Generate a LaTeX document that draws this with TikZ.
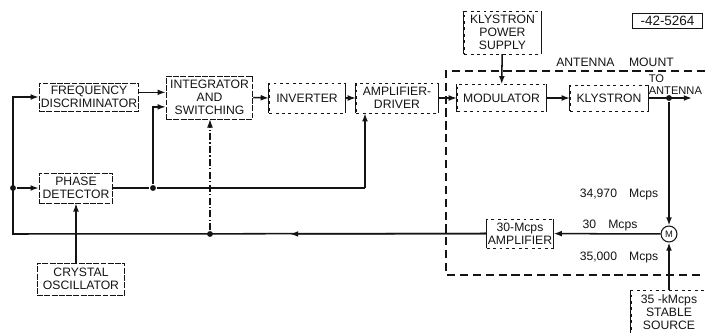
\documentclass[tikz,border=0pt]{standalone}
\usepackage{fontspec}
\setmainfont{Liberation Sans}
\usetikzlibrary{arrows.meta,calc}
\definecolor{inkBlack}{RGB}{20,20,20}

\begin{document}
\begin{tikzpicture}[x=0.03cm,y=-0.03cm,
  font=\fontsize{10.4}{11.3}\selectfont,
  line width=1.3pt,draw=inkBlack,text=inkBlack,
  arr/.style={-{Latex[length=7pt,width=5pt]}},
  blk/.style={draw,line width=0.7pt,dash pattern=on 5pt off 1.2pt,align=center,inner sep=1pt},
  brk/.style={draw,line width=0.45pt,dash pattern=on 2.5pt off 3pt,align=center,inner sep=1pt},
  dot/.style={circle,fill=inkBlack,inner sep=0pt,minimum size=5pt},
  mount/.style={line width=1.1pt,dash pattern=on 7pt off 4pt},
  dashdot/.style={line width=0.9pt,dash pattern=on 6pt off 2pt on 1pt off 2pt}]
  \def\pw{0.8504pt}
  \useasboundingbox (0,0) rectangle (705,332);
  \node[blk,minimum width=100*\pw,minimum height=28*\pw] (fd) at (89,97) {FREQUENCY\\DISCRIMINATOR};
  \node[blk,minimum width=87*\pw,minimum height=43*\pw] (intg) at (209.5,97.5) {INTEGRATOR\\AND\\SWITCHING};
  \node[brk,minimum width=76*\pw,minimum height=30*\pw] (inv) at (307,98) {INVERTER};
  \node[brk,minimum width=82*\pw,minimum height=30*\pw] (drv) at (397,98) {AMPLIFIER-\\DRIVER};
  \node[brk,minimum width=89*\pw,minimum height=27*\pw] (mod) at (501.5,98) {MODULATOR};
  \node[brk,minimum width=78*\pw,minimum height=26*\pw] (kly) at (609,98) {KLYSTRON};
  \node[brk,minimum width=77*\pw,minimum height=43*\pw] (kps) at (502.5,32.5) {KLYSTRON\\POWER\\SUPPLY};
  \node[draw,line width=0.8pt,minimum width=71*\pw,minimum height=15*\pw,inner sep=0pt,font=\fontsize{11.5}{12}\selectfont] (tag) at (667.5,20.5) {-42-5264};
  \node[blk,minimum width=74*\pw,minimum height=30*\pw] (pd) at (76,188) {PHASE\\DETECTOR};
  \node[blk,minimum width=88*\pw,minimum height=32*\pw] (xo) at (81,279) {CRYSTAL\\OSCILLATOR};
  \node[brk,minimum width=66*\pw,minimum height=29*\pw] (amp) at (520,233.5) {30-Mcps\\AMPLIFIER};
  \node[circle,draw,line width=0.9pt,inner sep=0pt,minimum size=16*\pw,font=\fontsize{8}{8}\selectfont] (mix) at (669,234) {M};
  \node[brk,minimum width=76*\pw,minimum height=44*\pw] (src) at (669,312) {35 -kMcps\\STABLE\\SOURCE};
  \foreach \n in {inv,drv,mod,kly,kps,amp,src}{
    \draw[line width=0.9pt] (\n.north west) -- (\n.south west) (\n.north east) -- (\n.south east);
  }
  \coordinate (lc) at (13,234);
  \node[dot] (ld) at (13,188) {};
  \node[dot] (pj) at (153,188) {};
  \coordinate (dj) at (365,188);
  \node[dot] (fbd) at (210,234) {};
  \coordinate (tip) at (290,234);
  \node[dot] (kj) at (669,98) {};
  \coordinate (ant) at (692,98);
  \draw[mount] (705,71) -- (446,71) -- (446,275) -- (705,275);
  \node (mtl) at (615,62) {ANTENNA\hspace{1.2em}MOUNT};
  \node[anchor=base west,align=left,inner sep=0pt,font=\fontsize{9.5}{9.5}\selectfont] (tol) at (648,94) {TO\\ANTENNA};
  \node[anchor=east] (lba) at (663,195) {34,970\hspace{1em}Mcps};
  \node (lbb) at (610,226) {30\hspace{1em}Mcps};
  \node[anchor=east] (lbc) at (663,258) {35,000\hspace{1em}Mcps};
  \draw[arr] ([yshift=4pt]fd.east) -- ([yshift=4pt]fd.east -| intg.west);
  \draw[arr] (pj) |- ([yshift=-8pt]intg.west);
  \draw (pd.east) -- (pj) -- (dj);
  \draw[arr] (dj) -- (dj |- drv.south);
  \draw[arr] (intg.east) -- (inv.west);
  \draw[arr] (inv) -- (drv);
  \draw[arr] (drv) -- (mod);
  \draw[arr] (mod) -- (kly);
  \draw[arr] (kps) -- (mod);
  \draw[arr] (kly) -- (ant);
  \draw[arr] (kj) -- (mix);
  \draw[arr] (src) -- (mix);
  \draw[arr] (mix) -- (amp);
  \draw[arr] (amp.west) -- (lc) |- (fd.west);
  \draw[arr] (amp.west) -- (tip);
  \draw[arr] (ld) -- (pd.west);
  \draw[arr] (xo.north -| pd.south) -- (pd.south);
  \draw[arr,dashdot] (fbd) -- (fbd |- intg.south);
\end{tikzpicture}
\end{document}
